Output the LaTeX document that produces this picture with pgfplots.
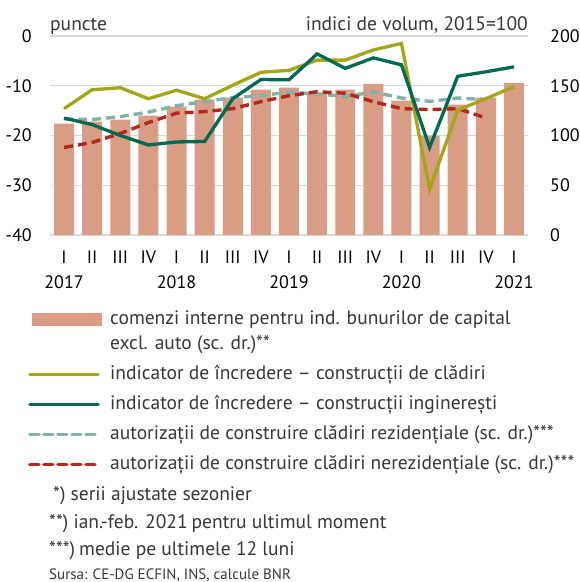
\documentclass[border=0pt]{standalone}
\usepackage{fontspec}
\setmainfont{PT Sans}
\usepackage{pgfplots}
\pgfplotsset{compat=1.18}
\definecolor{barc}{RGB}{217,156,132}
\definecolor{olivec}{RGB}{164,166,24}
\definecolor{greenc}{RGB}{0,106,82}
\definecolor{tealc}{RGB}{127,178,168}
\definecolor{redc}{RGB}{178,40,30}
\definecolor{gridc}{RGB}{217,217,217}
\definecolor{txtc}{RGB}{55,55,55}
\newcommand{\tfont}{\fontsize{19.5bp}{24bp}\selectfont}
\pgfplotsset{
  base/.style={scale only axis, width=478bp, height=199bp,
    at={(50bp,-235bp)}, anchor=south west,
    xmin=-0.5, xmax=16.5,
    axis line style={draw=none}, major tick length=0pt,
    tick label style={font=\fontsize{18bp}{25bp}\selectfont, inner sep=0pt, text=black}},
}
\begin{document}
\begin{tikzpicture}[x=1bp,y=1bp]
\path[use as bounding box] (0,0) rectangle (580,-582);
% axis 1: bars, right scale
\begin{axis}[base, ymin=0, ymax=200,
  ytick={0,50,100,150,200}, yticklabels={0,50,100,150,200},
  yticklabel pos=right, yticklabel style={anchor=west, xshift=22bp},
  ymajorgrids, grid style={gridc, line width=1.3bp},
  xtick={0,...,16},
  xticklabels={{I\\2017},II,III,IV,{I\\2018},II,III,IV,{I\\2019},II,III,IV,{I\\2020},II,III,IV,{I\\2021}},
  xticklabel style={align=center, anchor=north, yshift=-16bp}]
\addplot[ybar, bar width=0.71, fill=barc, draw=none] coordinates {
(0,112) (1,114) (2,116) (3,120) (4,129) (5,136) (6,138) (7,146) (8,148)
(9,143) (10,146) (11,152) (12,135) (13,100) (14,131) (15,138) (16,153)};
\end{axis}
% axis 2: dashed, right scale + legend
\begin{axis}[base, ymin=0, ymax=200, xtick=\empty, ytick=\empty,
  legend image code/.code={\path[draw=none, fill=none] (0bp,0bp) -- (74bp,0bp);\draw[#1, line cap=round, overlay] (1.7bp,0bp) -- (70bp,0bp);},
  legend cell align=left,
  legend style={at={(-0.046,-0.3565)}, anchor=north west, draw=none, fill=none,
    inner sep=0pt, row sep=13bp, column sep=8bp,
    nodes={inner sep=0pt, text height=13bp, text depth=4bp,
      font=\tfont, text=txtc}}]
\addplot[forget plot, tealc, line width=3.4bp, dash pattern=on 9bp off 5bp] coordinates {
(0,116.7) (1,116) (2,119) (3,123.5) (4,130) (5,134) (6,138) (7,140) (8,143.7)
(9,141.7) (10,139.3) (11,143.7) (12,137.7) (13,134.3) (14,137.7) (15,136)};
\addplot[forget plot, redc, line width=3.4bp, dash pattern=on 9bp off 5bp] coordinates {
(0,88) (1,93) (2,102) (3,113) (4,122.5) (5,124) (6,127) (7,134) (8,140)
(9,144) (10,142.5) (11,134) (12,127) (13,126) (14,127) (15,117.7)};
\addlegendimage{legend image code/.code={\path[draw=none, fill=none] (0bp,0bp) -- (74bp,0bp);\fill[barc, draw=none, overlay] (4bp,-11.5bp) rectangle (74bp,1.5bp);}}
\addlegendentry{\raisebox{-5bp}{comenzi interne pentru ind. bunurilor de capital}}
\addlegendimage{legend image code/.code={\path[draw=none, fill=none] (0bp,0bp) -- (74bp,0bp);}}
\addlegendentry{excl. auto (sc. dr.)**}
\addlegendimage{olivec, line width=3.4bp}
\addlegendentry{indicator de încredere – construcții de clădiri}
\addlegendimage{greenc, line width=3.4bp}
\addlegendentry{indicator de încredere – construcții inginerești}
\addlegendimage{tealc, line width=3.4bp, dash pattern=on 9bp off 5bp}
\addlegendentry{autorizații de construire clădiri rezidențiale\hspace{5bp}(sc. dr.)***}
\addlegendimage{redc, line width=3.4bp, dash pattern=on 9bp off 5bp}
\addlegendentry{autorizații de construire clădiri nerezidențiale\hspace{5bp}(sc. dr.)***}
\end{axis}
% axis 3: solid lines, left scale
\begin{axis}[base, ymin=-40, ymax=0,
  ytick={-40,-30,-20,-10,0}, yticklabels={-40,-30,-20,-10,0},
  yticklabel style={anchor=east, xshift=-18bp}, xtick=\empty]
\addplot[olivec, line width=3.3bp] coordinates {
(0,-14.6) (1,-10.8) (2,-10.4) (3,-12.6) (4,-10.9) (5,-12.6) (6,-9.9) (7,-7.3) (8,-6.9)
(9,-4.85) (10,-4.85) (11,-2.8) (12,-1.5) (13,-30.8) (14,-14.9) (15,-12.6) (16,-10.2)};
\addplot[greenc, line width=3.3bp] coordinates {
(0,-16.5) (1,-17.8) (2,-20.0) (3,-21.9) (4,-21.3) (5,-21.2) (6,-12.6) (7,-8.75) (8,-8.8)
(9,-3.6) (10,-6.5) (11,-4.4) (12,-5.8) (13,-22.4) (14,-8.1) (15,-7.2) (16,-6.2)};
\end{axis}
\node[anchor=base west, text=txtc, font=\tfont, inner sep=0pt] at (50,-31) {puncte};
\node[anchor=base east, text=txtc, font=\tfont, inner sep=0pt] at (528,-31) {indici de volum, 2015=100};
\begin{scope}[every node/.style={anchor=base west, text=txtc, inner sep=0pt, font=\tfont}]
\node at (53,-500) {*) serii ajustate sezonier};
\node at (49,-528) {**) ian.-feb. 2021\hspace{4bp}pentru ultimul moment};
\node at (49,-555) {***)\hspace{4bp}medie pe ultimele 12 luni};
\node[font=\fontsize{15bp}{17bp}\selectfont] at (49,-579) {Sursa: CE-DG\hspace{4bp}ECFIN, INS, calcule BNR};
\end{scope}
\end{tikzpicture}
\end{document}
